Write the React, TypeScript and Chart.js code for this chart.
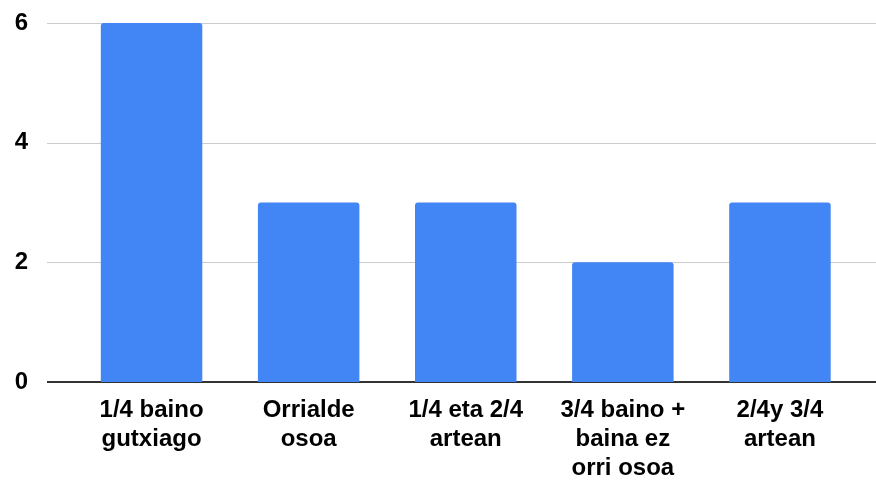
import React, { useEffect, useRef } from "react";
import { Chart, registerables } from "chart.js";

Chart.register(...registerables);

const categories: string[][] = [
  ["1/4 baino", "gutxiago"],
  ["Orrialde", "osoa"],
  ["1/4 eta 2/4", "artean"],
  ["3/4 baino +", "baina ez", "orri osoa"],
  ["2/4y 3/4", "artean"],
];
const values: number[] = [6, 3, 3, 2, 3];
const yTicks: number[] = [0, 2, 4, 6];

const FONT = "'Liberation Sans', Arial, sans-serif";

const wideGrid = {
  id: "wideGrid",
  beforeDatasetsDraw(chart: any) {
    const ctx = chart.ctx;
    const y = chart.scales.y;
    ctx.save();
    yTicks.forEach((v) => {
      const py = Math.round(y.getPixelForValue(v));
      ctx.beginPath();
      if (v === 0) {
        ctx.strokeStyle = "#333333";
        ctx.lineWidth = 2;
        ctx.moveTo(47, py);
        ctx.lineTo(876, py);
      } else {
        ctx.strokeStyle = "#cccccc";
        ctx.lineWidth = 1;
        ctx.moveTo(47, py + 0.5);
        ctx.lineTo(876, py + 0.5);
      }
      ctx.stroke();
    });
    ctx.restore();
  },
};

export default function App() {
  const ref = useRef<HTMLCanvasElement | null>(null);
  useEffect(() => {
    if (!ref.current) return;
    const chart = new Chart(ref.current, {
      type: "bar",
      data: {
        labels: categories,
        datasets: [
          {
            data: values,
            backgroundColor: "#4285F4",
            borderRadius: { topLeft: 3, topRight: 3, bottomLeft: 0, bottomRight: 0 },
            borderSkipped: false,
            categoryPercentage: 1,
            barPercentage: 0.646,
          },
        ],
      },
      options: {
        animation: false,
        responsive: false,
        maintainAspectRatio: false,
        layout: { padding: { top: 23, right: 17.5, left: 0, bottom: 0 } },
        plugins: { legend: { display: false }, tooltip: { enabled: false } },
        scales: {
          x: {
            grid: { display: false, drawTicks: false },
            border: { display: false },
            ticks: {
              color: "#000000",
              font: { family: FONT, size: 24, weight: "bold", lineHeight: 1.2 },
              padding: 14,
              maxRotation: 0,
              autoSkip: false,
            },
            afterFit: (s: any) => {
              s.height = 99;
              s.paddingTop = 0;
              s.paddingBottom = 0;
            },
          },
          y: {
            min: 0,
            max: 6,
            grid: { display: false, drawTicks: false },
            border: { display: false },
            afterBuildTicks: (s: any) => {
              s.ticks = yTicks.map((v) => ({ value: v }));
            },
            ticks: {
              color: "#000000",
              font: { family: FONT, size: 24, weight: "bold" },
              padding: 45,
            },
            afterFit: (s: any) => {
              s.width = 73;
              s.paddingTop = 0;
              s.paddingBottom = 0;
            },
          },
        },
      },
      plugins: [wideGrid],
    });
    return () => chart.destroy();
  }, []);
  return (
    <div style={{ position: "fixed", left: 0, top: 0, width: 876, height: 481, background: "#fff" }}>
      <canvas ref={ref} width={876} height={481} style={{ width: 876, height: 481, display: "block" }} />
    </div>
  );
}
